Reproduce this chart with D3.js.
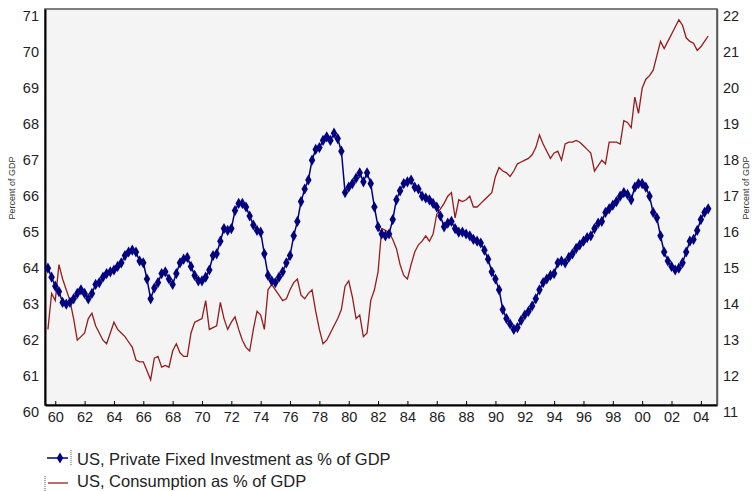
<!DOCTYPE html>
<html>
<head>
<meta charset="utf-8">
<script src="https://cdn.jsdelivr.net/npm/d3@7"></script>
<style>
  body { margin: 0; background: #fff; }
  svg { display: block; font-family: "Liberation Sans", Arial, sans-serif; }
</style>
</head>
<body>
<div id="chart"></div>
<script>
const width = 756;
const height = 491;
const plot = { left: 45, right: 717, top: 9, bottom: 405 };

// quarterly data, 1959Q3 .. 2004Q3
const startYear = 1959.5;

// consumption as % of GDP (left axis)
const consumption = [
  62.1, 63.1,
  62.9, 63.9, 63.5, 63.2,
  62.9, 62.4, 61.8, 61.9,
  62.0, 62.4, 62.55, 62.2,
  62.0, 61.8, 61.7, 62.0,
  62.3, 62.1, 62.0, 61.9,
  61.75, 61.6, 61.25, 61.2,
  61.2, 60.95, 60.7, 61.3,
  61.35, 61.05, 61.1, 61.05,
  61.5, 61.7, 61.45, 61.35,
  61.35, 62.0, 62.3, 62.35,
  62.4, 62.9, 62.1, 62.15,
  62.2, 62.85, 62.4, 62.1,
  62.3, 62.45, 62.1, 61.8,
  61.6, 61.5, 62.1, 62.6,
  62.5, 62.1, 63.2, 63.35,
  63.2, 63.05, 62.9, 62.95,
  63.2, 63.4, 63.5, 63.05,
  62.95, 63.1, 63.2, 62.6,
  62.1, 61.7, 61.8, 62.0,
  62.2, 62.4, 62.65, 63.3,
  63.45, 63.0, 62.4, 62.5,
  61.9, 62.0, 62.9, 63.2,
  63.7, 64.9, 64.85, 64.8,
  64.6, 64.35, 63.9, 63.6,
  63.5, 63.9, 64.25, 64.45,
  64.55, 64.7, 64.55, 64.75,
  65.3, 65.45, 65.6, 65.8,
  65.9, 65.2, 65.7, 65.65,
  65.7, 65.8, 65.5, 65.5,
  65.6, 65.7, 65.8, 65.9,
  66.35, 66.6, 66.5, 66.45,
  66.35, 66.5, 66.7, 66.75,
  66.8, 66.85, 66.95, 67.15,
  67.5, 67.25, 67.05, 66.85,
  67.0, 67.05, 66.8, 67.25,
  67.3, 67.3, 67.35, 67.3,
  67.2, 67.1, 67.0, 66.5,
  66.65, 66.8, 66.7, 67.3,
  67.3, 67.3, 67.25, 67.9,
  67.85, 67.7, 68.55, 68.1,
  68.8, 69.05, 69.15, 69.3,
  69.7, 70.1, 69.9, 70.1,
  70.3, 70.5, 70.7, 70.55,
  70.2, 70.1, 70.05, 69.85,
  69.95, 70.1, 70.25
];

// private fixed investment as % of GDP (right axis)
const investment = [
  14.8, 14.55,
  14.3, 14.15, 13.85, 13.8,
  13.85, 13.95, 14.1, 14.2,
  14.1, 13.95, 14.1, 14.35,
  14.4, 14.55, 14.65, 14.7,
  14.75, 14.85, 14.95, 15.15,
  15.25, 15.3, 15.25, 15.0,
  14.95, 14.5, 13.95, 14.25,
  14.4, 14.65, 14.7, 14.5,
  14.35, 14.65, 14.95, 15.05,
  15.1, 14.85, 14.6, 14.45,
  14.45, 14.55, 14.75, 15.15,
  15.2, 15.55, 15.9, 15.85,
  15.9, 16.4, 16.6, 16.6,
  16.5, 16.25, 16.0, 15.85,
  15.8, 15.2, 14.6, 14.45,
  14.4, 14.55, 14.7, 14.95,
  15.15, 15.7, 16.1, 16.65,
  17.0, 17.25, 17.8, 18.1,
  18.15, 18.35, 18.45, 18.35,
  18.55, 18.4, 18.05, 16.9,
  17.05, 17.15, 17.3, 17.45,
  17.2, 17.45, 17.15, 16.5,
  15.95, 15.75, 15.7, 15.75,
  16.15, 16.7, 16.95, 17.15,
  17.2, 17.25, 17.05, 17.0,
  16.8, 16.75, 16.7, 16.6,
  16.5, 16.25, 15.95, 16.05,
  16.1, 15.9, 15.8, 15.8,
  15.75, 15.7, 15.6, 15.55,
  15.5, 15.3, 15.05, 14.7,
  14.5, 14.2, 13.65, 13.4,
  13.25, 13.1, 13.15, 13.35,
  13.5, 13.6, 13.75, 13.95,
  14.2, 14.4, 14.5, 14.6,
  14.65, 14.95, 15.0, 14.95,
  15.1, 15.2, 15.35, 15.45,
  15.55, 15.65, 15.7, 15.9,
  16.05, 16.1, 16.35, 16.45,
  16.55, 16.65, 16.8, 16.9,
  16.85, 16.7, 17.05, 17.15,
  17.15, 17.05, 16.8, 16.35,
  16.2, 15.7, 15.25, 15.0,
  14.85, 14.75, 14.8, 14.95,
  15.25, 15.55, 15.6, 15.85,
  16.15, 16.35, 16.45
];

const xTicks = d3.range(1960, 2005, 2);
const leftTicks = d3.range(60, 72);
const rightTicks = d3.range(11, 23);
const axisTitle = "Percent of GDP";
const legendLabels = [
  "US, Private Fixed Investment as % of GDP",
  "US, Consumption as % of GDP"
];

const blue = "#000080";
const red = "#961c1c";
const tickFont = 14.5;

const svg = d3.select("#chart").append("svg")
  .attr("width", width)
  .attr("height", height);

const x = d3.scaleLinear().domain([1959.3, 2005.1]).range([plot.left, plot.right]);
const yLeft = d3.scaleLinear().domain([60, 71]).range([plot.bottom, plot.top]);
const yRight = d3.scaleLinear().domain([11, 22]).range([plot.bottom, plot.top]);

// plot background
svg.append("rect")
  .attr("x", plot.left).attr("y", plot.top)
  .attr("width", plot.right - plot.left)
  .attr("height", plot.bottom - plot.top)
  .attr("fill", "#f4f4f4")
  .attr("stroke", "#555")
  .attr("stroke-width", 1.5);

// x axis
const xAxis = svg.append("g")
  .attr("transform", `translate(0,${plot.bottom})`)
  .call(d3.axisBottom(x).tickValues(xTicks)
    .tickFormat((d) => String(d % 100).padStart(2, "0"))
    .tickSizeInner(-4).tickSizeOuter(0).tickPadding(7));
xAxis.select(".domain").attr("stroke", "#000").attr("stroke-width", 2);
xAxis.selectAll(".tick line").attr("stroke", "#000");
xAxis.selectAll("text").attr("font-size", tickFont).attr("fill", "#222");

// left axis
const leftAxis = svg.append("g")
  .attr("transform", `translate(${plot.left},0)`)
  .call(d3.axisLeft(yLeft).tickValues(leftTicks).tickSize(0).tickPadding(6));
leftAxis.select(".domain").attr("stroke", "#000").attr("stroke-width", 2);
leftAxis.selectAll("text").attr("font-size", tickFont).attr("fill", "#222").attr("dy", "0.76em");

// right axis
const rightAxis = svg.append("g")
  .attr("transform", `translate(${plot.right},0)`)
  .call(d3.axisRight(yRight).tickValues(rightTicks).tickSize(0).tickPadding(6));
rightAxis.select(".domain").attr("stroke", "#555").attr("stroke-width", 1.5);
rightAxis.selectAll("text").attr("font-size", tickFont).attr("fill", "#222").attr("dy", "0.76em");

// axis titles
svg.append("text")
  .attr("transform", "translate(15,188) rotate(-90)")
  .attr("text-anchor", "middle")
  .attr("font-size", 9)
  .attr("fill", "#333")
  .text(axisTitle);
svg.append("text")
  .attr("transform", "translate(749,188) rotate(-90)")
  .attr("text-anchor", "middle")
  .attr("font-size", 9)
  .attr("fill", "#333")
  .text(axisTitle);

svg.append("clipPath").attr("id", "clip")
  .append("rect")
  .attr("x", plot.left).attr("y", plot.top)
  .attr("width", plot.right - plot.left)
  .attr("height", plot.bottom - plot.top);

const g = svg.append("g").attr("clip-path", "url(#clip)");

const year = (i) => startYear + i * 0.25;

// consumption line
g.append("path")
  .datum(consumption)
  .attr("fill", "none")
  .attr("stroke", red)
  .attr("stroke-width", 1.3)
  .attr("d", d3.line().x((d, i) => x(year(i))).y((d) => yLeft(d)));

// investment line + markers
g.append("path")
  .datum(investment)
  .attr("fill", "none")
  .attr("stroke", blue)
  .attr("stroke-width", 1.5)
  .attr("d", d3.line().x((d, i) => x(year(i))).y((d) => yRight(d)));

const marker = d3.symbol().type(d3.symbolDiamond).size(36);
g.selectAll(".mk")
  .data(investment)
  .enter()
  .append("path")
  .attr("class", "mk")
  .attr("transform", (d, i) => `translate(${x(year(i))},${yRight(d)})`)
  .attr("d", marker)
  .attr("fill", blue);

// legend
const legend = svg.append("g");
legend.append("line")
  .attr("x1", 47).attr("x2", 68).attr("y1", 458).attr("y2", 458)
  .attr("stroke", blue).attr("stroke-width", 1.5);
legend.append("path")
  .attr("transform", "translate(60,458)")
  .attr("d", marker)
  .attr("fill", blue);
legend.append("line")
  .attr("x1", 71).attr("x2", 71).attr("y1", 450).attr("y2", 466)
  .attr("stroke", "#555").attr("stroke-dasharray", "1,1");
legend.append("line")
  .attr("x1", 48).attr("x2", 68).attr("y1", 483).attr("y2", 483)
  .attr("stroke", red).attr("stroke-width", 1.3);
legend.append("line")
  .attr("x1", 45).attr("x2", 45).attr("y1", 476).attr("y2", 491)
  .attr("stroke", "#555").attr("stroke-dasharray", "1,1");

legend.selectAll("text")
  .data(legendLabels)
  .enter()
  .append("text")
  .attr("x", 77)
  .attr("y", (d, i) => 465 + i * 22)
  .attr("font-size", 16.5)
  .attr("fill", "#222")
  .text((d) => d);
</script>
</body>
</html>
